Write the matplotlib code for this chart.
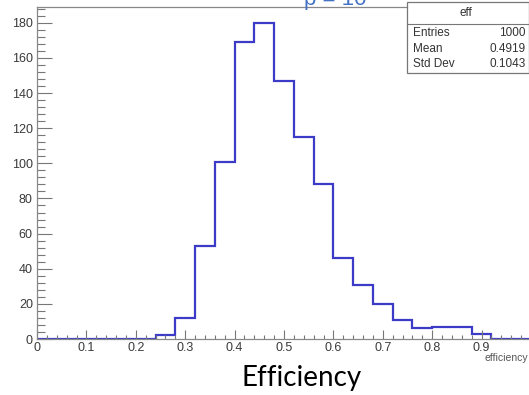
import numpy as np
import matplotlib.pyplot as plt
from matplotlib.ticker import MultipleLocator

# histogram of efficiency, 25 bins from 0 to 1
bin_lo = 0.0
bin_width = 0.04
counts = [0, 0, 0, 0, 0, 0, 2, 12, 53, 101, 169, 180, 147, 115, 88,
          46, 31, 20, 11, 6, 7, 7, 3, 0, 0]
stat_names = ['Entries', 'Mean', 'Std Dev']
stat_values = ['1000', '0.4919', '0.1043']

edges = bin_lo + bin_width * np.arange(len(counts) + 1)

plt.rcParams['font.family'] = ['Liberation Sans', 'DejaVu Sans']

fig = plt.figure(figsize=(5.29, 3.95), dpi=100)
ax = fig.add_axes([37 / 529, 1 - 339 / 395, 494 / 529, 332 / 395])
ax.stairs(counts, edges, color='#3b3bc8', linewidth=1.6, baseline=0)
ax.set_xlim(0, 1)
ax.set_ylim(0, 189)

ax.xaxis.set_major_locator(MultipleLocator(0.1))
ax.xaxis.set_minor_locator(MultipleLocator(0.02))
ax.yaxis.set_major_locator(MultipleLocator(20))
ax.yaxis.set_minor_locator(MultipleLocator(4))
ax.set_xticks(np.arange(0, 1.0, 0.1))
ax.set_xticklabels(['0', '0.1', '0.2', '0.3', '0.4', '0.5', '0.6', '0.7', '0.8', '0.9'])
ax.tick_params(axis='x', which='major', direction='in', length=6.5, width=0.8,
               color='#777777', labelsize=9, labelcolor='#3a3a3a', pad=2)
ax.tick_params(axis='x', which='minor', direction='in', length=3.2, width=0.8, color='#777777')
ax.tick_params(axis='y', which='major', direction='in', length=11, width=0.8,
               color='#777777', labelsize=9, labelcolor='#3a3a3a', pad=3)
ax.tick_params(axis='y', which='minor', direction='in', length=5.5, width=0.8, color='#777777')
ax.tick_params(right=False, top=False)
for s in ax.spines.values():
    s.set_color('#888888')
    s.set_linewidth(0.9)

fig.text(528 / 529, 1 - 358 / 395, 'efficiency', ha='right', va='center',
         fontsize=7.5, color='#555555')
fig.text(302 / 529, 1 - 378 / 395, 'Efficiency', ha='center', va='center',
         fontsize=20, family=['Lato', 'DejaVu Sans'], color='black')

# blue text clipped by the top edge (only its lower part shows)
fig.text(335 / 529, 1 - 5.5 / 395, 'p = 10', ha='center', va='baseline',
         fontsize=16, color='#4472c4')

# stats box
bx0, bx1 = 407 / 529, 1.0
by0, by1 = 1 - 73 / 395, 1 - 2 / 395
fig.patches.append(plt.Rectangle((bx0, by0), bx1 - bx0, by1 - by0, transform=fig.transFigure,
                                 facecolor='white', edgecolor='#777777', linewidth=0.9))
fig.lines.append(plt.Line2D([bx0, bx1], [1 - 24 / 395, 1 - 24 / 395],
                            transform=fig.transFigure, color='#777777', linewidth=0.8))
fig.text(466 / 529, 1 - 13 / 395, 'eff', ha='center', va='center', fontsize=8.5, color='#333333')
for i, (n, v) in enumerate(zip(stat_names, stat_values)):
    y = 1 - (33 + 15.5 * i) / 395
    fig.text(413 / 529, y, n, ha='left', va='center', fontsize=8.5, color='#333333')
    fig.text(526 / 529, y, v, ha='right', va='center', fontsize=8.5, color='#333333')

fig.savefig('out.png', dpi=100)
